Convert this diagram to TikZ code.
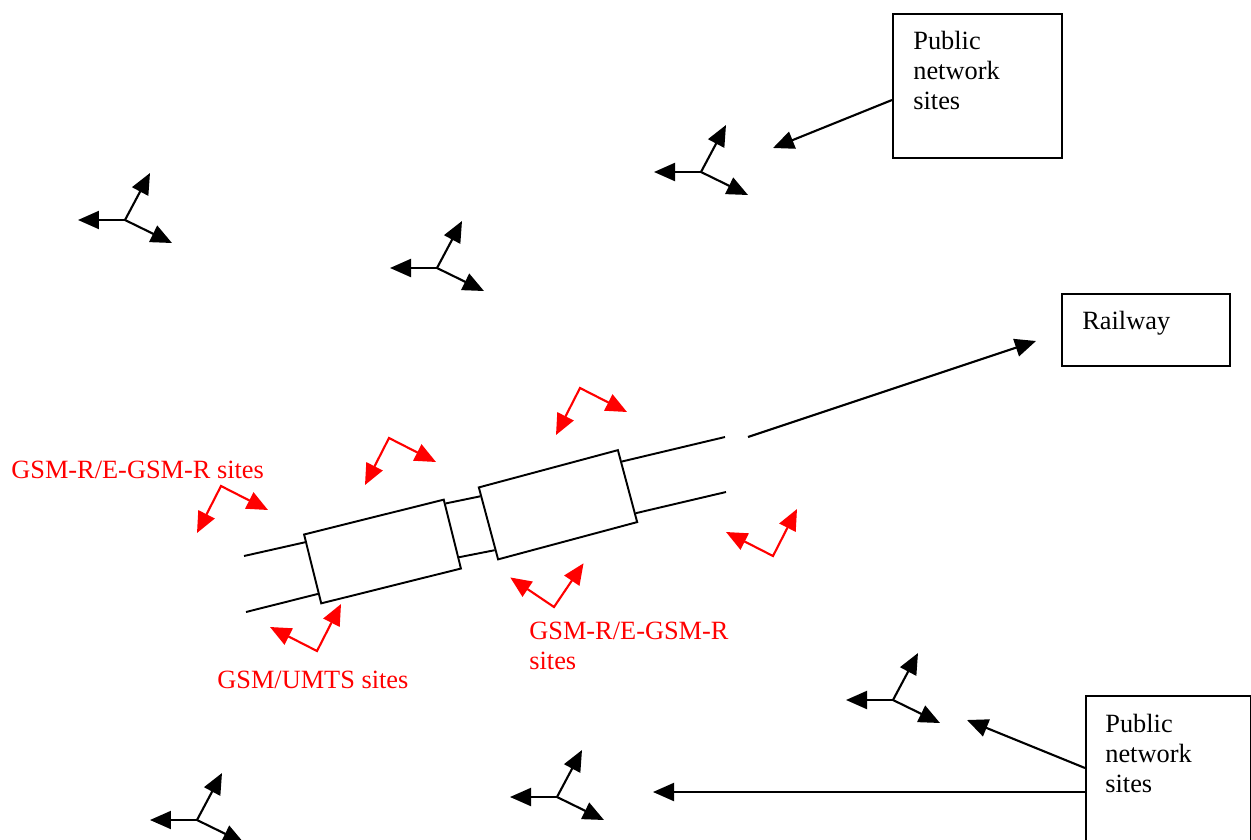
\documentclass[tikz,border=0pt]{standalone}
\usepackage{fontspec}
\setmainfont{Liberation Serif}
\usetikzlibrary{arrows.meta,calc}
\definecolor{SiteRed}{HTML}{FF0000}

\begin{document}
\begin{tikzpicture}[
  x=0.02cm, y=-0.02cm,
  sitebox/.style={draw, line width=1.1pt, inner sep=0pt, anchor=north west},
  boxlabel/.style={font=\fontsize{15pt}{17pt}\selectfont, align=left, inner sep=0pt, anchor=north west},
  redlabel/.style={font=\fontsize{15pt}{17pt}\selectfont, text=SiteRed, align=left, inner sep=0pt},
  railcar/.style={draw, line width=1.1pt, minimum width=2.88cm, inner sep=0pt},
  rail/.style={line width=1.1pt},
  sitearrow/.style={-{Triangle[length=4.2mm,width=3.6mm]}, line width=1.2pt},
  railarrow/.style={{Triangle[length=4.2mm,width=3.6mm]}-{Triangle[length=4.2mm,width=3.6mm]}, line width=1.2pt, SiteRed},
  pubsite/.pic={
    \draw[sitearrow] (0,0) -- (-47,0);
    \draw[sitearrow] (0,0) -- (25,-47);
    \draw[sitearrow] (0,0) -- (47,23);
  },
  railsite/.pic={
    \draw[railarrow] (-47,-24) -- (0,0) -- (24,-47);
  }
]
\useasboundingbox (0,0) rectangle (1251,839);

% boxes on the right
\node[sitebox, minimum width=3.38cm, minimum height=2.88cm] (pubtop) at (892,13) {};
\node[boxlabel] (pubtoptext) at (913,31) {Public\\network\\sites};
\node[sitebox, minimum width=3.36cm, minimum height=1.44cm] (railway) at (1061,293) {};
\node[boxlabel] (railwaytext) at (1082,311) {Railway};
\node[sitebox, minimum width=3.3cm, minimum height=4cm] (pubbot) at (1085,695) {};
\node[boxlabel] (pubbottext) at (1105,714) {Public\\network\\sites};

% the train
\node[railcar, minimum height=1.42cm, rotate=14] (car1) at (382.5,551.5) {};
\node[railcar, minimum height=1.49cm, rotate=15] (car2) at (558,504.75) {};

\coordinate (upperin) at (244,556);
\coordinate (lowerin) at (246,612);
\coordinate (upperout) at (725,437);
\coordinate (lowerout) at (726,492);

\draw[rail] (upperin) -- ($(car1.north west)!0.12!(car1.south west)$);
\draw[rail] (lowerin) -- ($(car1.north west)!0.85!(car1.south west)$);
\draw[rail] ($(car1.north east)!0.07!(car1.south east)$) -- ($(car2.north west)!0.13!(car2.south west)$);
\draw[rail] ($(car1.north east)!0.83!(car1.south east)$) -- ($(car2.north west)!0.86!(car2.south west)$);
\draw[rail] ($(car2.north east)!0.17!(car2.south east)$) -- (upperout);
\draw[rail] ($(car2.north east)!0.87!(car2.south east)$) -- (lowerout);

% pointers from the boxes
\coordinate (railstart) at (748,437);
\coordinate (railtip) at (1036,341);
\coordinate (toptip) at (773,148);
\coordinate (bottip1) at (967,720);
\coordinate (bottip2) at (653,792);

\draw[sitearrow] (railstart) -- (railtip);
\draw[sitearrow] ($(pubtop.north west)+(0,87)$) -- (toptip);
\draw[sitearrow] ($(pubbot.north west)+(0,73)$) -- (bottip1);
\draw[sitearrow] ($(pubbot.north west)+(0,97)$) -- (bottip2);

% public network sites
\pic at (125,220) {pubsite};
\pic at (701,172) {pubsite};
\pic at (437,268) {pubsite};
\pic at (893,700) {pubsite};
\pic at (557,797) {pubsite};
\pic at (197,820) {pubsite};

% railway sites
\pic[rotate=180] at (221,486) {railsite};
\pic[rotate=180] at (389,438) {railsite};
\pic[rotate=180] at (580,388) {railsite};
\pic at (773,556) {railsite};
\pic[rotate=-7] at (554,607) {railsite};
\pic at (317,651) {railsite};

\node[redlabel, anchor=base west] (lblgsmr) at (11,478) {GSM-R/E-GSM-R sites};
\node[redlabel, anchor=base west] (lblumts) at (217,688) {GSM/UMTS sites};
\node[redlabel, anchor=north west] (lblgsmr2) at (529,622) {GSM-R/E-GSM-R\\sites};
\end{tikzpicture}
\end{document}
